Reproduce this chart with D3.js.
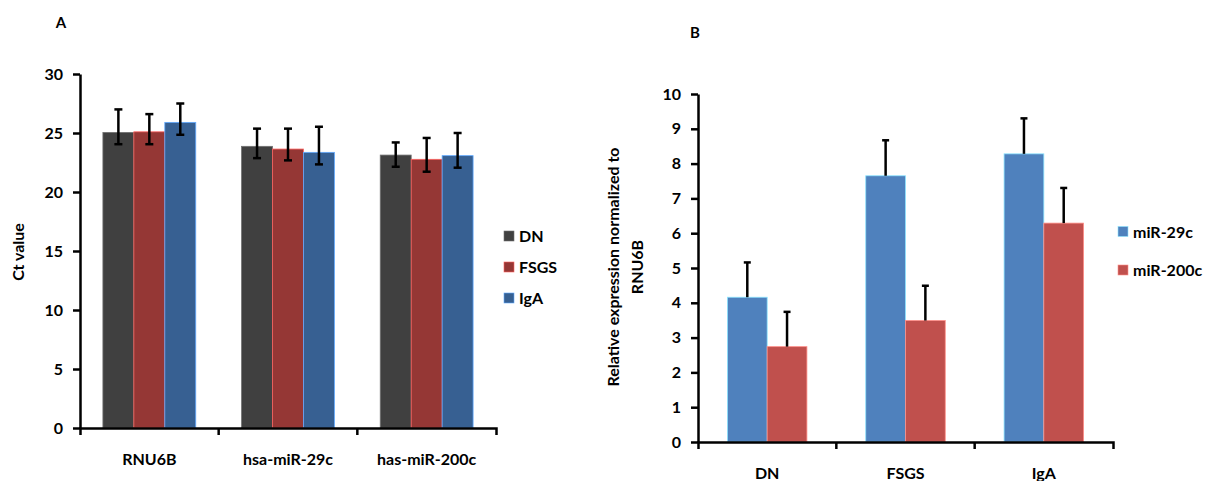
<!DOCTYPE html>
<html>
<head>
<meta charset="utf-8">
<script src="https://cdn.jsdelivr.net/npm/d3@7"></script>
<style>
  body { margin: 0; background: #fff; }
  text { font-family: Lato, "Open Sans", sans-serif; font-weight: bold; fill: #000; }
</style>
</head>
<body>
<div id="graph-container"></div>
<script>
// Panel A data: Ct values
const catsA = ["RNU6B", "hsa-miR-29c", "has-miR-200c"];
const seriesA = ["DN", "FSGS", "IgA"];
const colorsA = ["#404040", "#953735", "#376092"];
const valuesA = [
  [25.05, 23.87, 23.13],  // DN
  [25.1, 23.64, 22.77],   // FSGS
  [25.9, 23.36, 23.08]    // IgA
];
const errUpA = [
  [1.95, 1.5, 1.07],
  [1.5, 1.73, 1.81],
  [1.6, 2.17, 1.92]
];
const errDownA = [
  [1.0, 1.0, 0.99],
  [1.05, 0.96, 1.05],
  [1.05, 1.02, 1.02]
];
const ticksA = [0, 5, 10, 15, 20, 25, 30];

// Panel B data: relative expression
const catsB = ["DN", "FSGS", "IgA"];
const seriesB = ["miR-29c", "miR-200c"];
const colorsB = ["#4f81bd", "#c0504d"];
const valuesB = [
  [4.16, 7.65, 8.28],  // miR-29c
  [2.74, 3.49, 6.29]   // miR-200c
];
const errUpB = [
  [1.0, 1.02, 1.02],
  [1.0, 1.0, 1.01]
];
const ticksB = [0, 1, 2, 3, 4, 5, 6, 7, 8, 9, 10];

const svg = d3.select("#graph-container")
  .append("svg")
    .attr("width", 1209)
    .attr("height", 481);

function panel(opt) {
  const x = d3.scaleBand().domain(opt.cats).range([opt.x0, opt.x1]).padding(0);
  const xi = d3.scaleBand().domain(opt.series).range([0, x.bandwidth()]).paddingOuter(0.74);
  const y = d3.scaleLinear().domain(opt.domain).range([opt.y0, opt.y1]);

  const g = svg.append("g");

  // bars
  opt.series.forEach((s, si) => {
    g.selectAll(null)
      .data(opt.cats)
      .join("rect")
        .attr("x", d => x(d) + xi(s))
        .attr("y", (d, ci) => y(opt.values[si][ci]))
        .attr("width", xi.bandwidth())
        .attr("height", (d, ci) => opt.y0 - y(opt.values[si][ci]))
        .attr("fill", opt.colors[si])
        .attr("stroke", d3.color(opt.colors[si]).brighter(1.6))
        .attr("stroke-width", 0.8);
  });

  // error bars
  opt.series.forEach((s, si) => {
    opt.cats.forEach((c, ci) => {
      const cx = x(c) + xi(s) + xi.bandwidth() / 2;
      const v = opt.values[si][ci];
      const hi = v + opt.errUp[si][ci];
      const lo = opt.errDown ? v - opt.errDown[si][ci] : v;
      g.append("line")
        .attr("x1", cx).attr("x2", cx)
        .attr("y1", y(hi)).attr("y2", y(lo))
        .attr("stroke", "#000").attr("stroke-width", 2.5);
      g.append("line")
        .attr("x1", cx - opt.cap).attr("x2", cx + opt.cap)
        .attr("y1", y(hi)).attr("y2", y(hi))
        .attr("stroke", "#000").attr("stroke-width", 2.5);
      if (opt.errDown) {
        g.append("line")
          .attr("x1", cx - opt.cap).attr("x2", cx + opt.cap)
          .attr("y1", y(lo)).attr("y2", y(lo))
          .attr("stroke", "#000").attr("stroke-width", 2.5);
      }
    });
  });

  // y axis
  const ya = g.append("g")
    .attr("transform", `translate(${opt.x0},0)`)
    .call(d3.axisLeft(y).tickValues(opt.ticks).tickSizeInner(7).tickSizeOuter(0).tickPadding(10));

  // x axis
  const xa = g.append("g")
    .attr("transform", `translate(0,${opt.y0})`)
    .call(d3.axisBottom(x).tickSizeInner(0).tickSizeOuter(7).tickPadding(0));
  xa.selectAll(".tick text").attr("y", 37).attr("dy", null);
  xa.selectAll(null)
    .data(opt.cats.slice(1))
    .join("line")
      .attr("x1", d => x(d)).attr("x2", d => x(d))
      .attr("y1", 0).attr("y2", 7)
      .attr("stroke", "#000").attr("stroke-width", 2.5);

  [ya, xa].forEach(a => {
    a.selectAll("path, line").attr("stroke", "#000").attr("stroke-width", 2.5);
    a.selectAll("text").style("font-size", "16px").attr("fill", "#000");
  });

  // legend
  opt.series.forEach((s, si) => {
    const ly = opt.legY + si * opt.legStep;
    g.append("rect")
      .attr("x", opt.legX).attr("y", ly - 5)
      .attr("width", 10).attr("height", 10)
      .attr("fill", opt.colors[si])
      .attr("stroke", d3.color(opt.colors[si]).brighter(1.6))
      .attr("stroke-width", 0.6);
    g.append("text")
      .attr("x", opt.legX + 15).attr("y", ly + 6)
      .style("font-size", "16px")
      .text(s);
  });
}

panel({
  cats: catsA, series: seriesA, colors: colorsA,
  values: valuesA, errUp: errUpA, errDown: errDownA,
  ticks: ticksA, domain: [0, 30],
  x0: 80, x1: 496, y0: 428, y1: 74, cap: 4,
  legX: 504, legY: 236, legStep: 31
});

panel({
  cats: catsB, series: seriesB, colors: colorsB,
  values: valuesB, errUp: errUpB, errDown: null,
  ticks: ticksB, domain: [0, 10],
  x0: 698, x1: 1113, y0: 442, y1: 94, cap: 3.5,
  legX: 1118, legY: 231.5, legStep: 38.5
});

// panel letters
svg.append("text").attr("x", 61).attr("y", 28).attr("text-anchor", "middle")
  .style("font-size", "15px").text("A");
svg.append("text").attr("x", 695).attr("y", 38).attr("text-anchor", "middle")
  .style("font-size", "15px").text("B");

// y axis titles
svg.append("text")
  .attr("transform", "translate(24,252) rotate(-90)")
  .attr("text-anchor", "middle")
  .style("font-size", "16px")
  .text("Ct value");
svg.append("text")
  .attr("transform", "translate(619,267) rotate(-90)")
  .attr("text-anchor", "middle")
  .style("font-size", "16px")
  .text("Relative expression normalized to");
svg.append("text")
  .attr("transform", "translate(643,267) rotate(-90)")
  .attr("text-anchor", "middle")
  .style("font-size", "16px")
  .text("RNU6B");
</script>
</body>
</html>
